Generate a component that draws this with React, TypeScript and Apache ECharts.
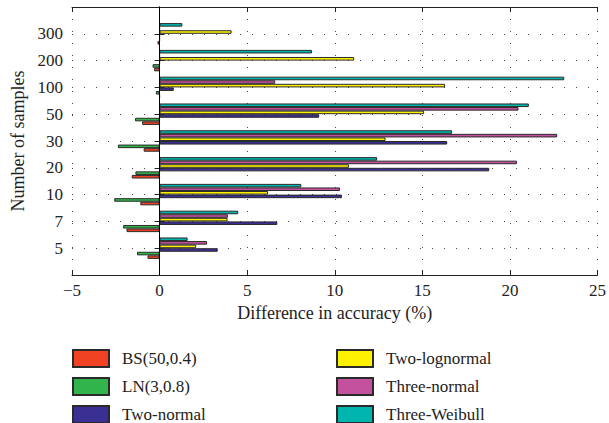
import React, { useEffect, useRef } from "react";
import * as echarts from "echarts";

// Sample sizes on the vertical axis (bottom to top); empty slots pad the ends
const sampleSizes = ["5", "7", "10", "20", "30", "50", "100", "200", "300"];

// Difference in accuracy (%) per sample size, in the order of sampleSizes
const bsValues = [-0.69, -1.89, -1.1, -1.59, -0.91, -1.0, 0, -0.31, -0.12];
const lnValues = [-1.29, -2.08, -2.59, -1.38, -2.38, -1.4, -0.21, -0.4, 0];
const twoNormalValues = [3.32, 6.72, 10.41, 18.82, 16.42, 9.11, 0.81, 0, 0];
const twoLognormalValues = [2.09, 3.88, 6.19, 10.81, 12.9, 15.1, 16.3, 11.11, 4.11];
const threeNormalValues = [2.71, 3.9, 10.3, 20.4, 22.7, 20.49, 6.6, 0, 0];
const threeWeibullValues = [1.6, 4.49, 8.09, 12.42, 16.7, 21.08, 23.1, 8.7, 1.3];

const seriesNames = [
  "BS(50,0.4)",
  "LN(3,0.8)",
  "Two-normal",
  "Two-lognormal",
  "Three-normal",
  "Three-Weibull",
];
const seriesColors = ["#f04123", "#30b44b", "#3a2f93", "#fff200", "#c4519e", "#00b5ae"];
const seriesValues = [
  bsValues,
  lnValues,
  twoNormalValues,
  twoLognormalValues,
  threeNormalValues,
  threeWeibullValues,
];

const xTicks = { min: -5, max: 25, interval: 5 };

const FONT = "'Liberation Serif', 'Times New Roman', serif";

export default function App() {
  const ref = useRef<HTMLDivElement>(null);

  useEffect(() => {
    if (!ref.current) return;
    const chart = echarts.init(ref.current, undefined, { renderer: "svg" });

    const yCats = ["", ...sampleSizes, ""];
    const pad = (arr: number[]) => [null, ...arr, null];

    const dotted = { color: "#444", width: 1, type: [1, 11] as number[] };

    // Horizontal bars stack their groups from the top, so the last series is
    // added first to keep BS at the bottom of each group.
    const order = [5, 4, 3, 2, 1, 0];
    const series: any[] = order.map((i, k) => ({
      name: seriesNames[i],
      type: "bar",
      xAxisIndex: 0,
      yAxisIndex: 0,
      data: pad(seriesValues[i]),
      barGap: "0%",
      barCategoryGap: "20%",
      itemStyle: { color: seriesColors[i], borderColor: "#2a2a2a", borderWidth: 1 },
      ...(k === order.length - 1
        ? {
            markLine: {
              silent: true,
              symbol: "none",
              label: { show: false },
              lineStyle: { color: "#000", type: "solid", width: 1 },
              data: [{ xAxis: 0 }],
            },
          }
        : {}),
    }));

    const legendCommon = {
      orient: "vertical",
      padding: 0,
      height: 100,
      itemWidth: 36,
      itemHeight: 17,
      itemGap: 9,
      icon: "rect",
      selectedMode: false,
      textStyle: {
        fontFamily: FONT,
        fontSize: 17,
        lineHeight: 17,
        color: "#222",
        padding: [0, 0, 0, 8],
      },
    };

    chart.setOption({
      animation: false,
      backgroundColor: "#fff",
      textStyle: { fontFamily: FONT },
      grid: { left: 72, right: 8, top: 7, bottom: 148 },
      legend: [
        { ...legendCommon, left: 72, top: 349, data: seriesNames.slice(0, 3) },
        { ...legendCommon, left: 336, top: 349, data: seriesNames.slice(3) },
      ],
      xAxis: [
        {
          type: "value",
          position: "bottom",
          ...xTicks,
          name: "Difference in accuracy (%)",
          nameLocation: "middle",
          nameGap: 29,
          nameTextStyle: { fontFamily: FONT, fontSize: 18, color: "#222" },
          axisLine: { show: true, lineStyle: { color: "#222", width: 1 } },
          axisTick: { show: true, inside: true, length: 5, lineStyle: { color: "#222" } },
          axisLabel: {
            fontFamily: FONT,
            fontSize: 17,
            color: "#222",
            margin: 7,
            formatter: (v: number) => (v < 0 ? "\u2212" + Math.abs(v) : String(v)),
          },
          splitLine: { show: true, lineStyle: dotted },
        },
        {
          type: "value",
          position: "top",
          ...xTicks,
          axisLine: { show: true, lineStyle: { color: "#222", width: 1 } },
          axisTick: { show: true, inside: true, length: 5, lineStyle: { color: "#222" } },
          axisLabel: { show: false },
          splitLine: { show: false },
        },
      ],
      yAxis: [
        {
          type: "category",
          position: "left",
          data: yCats,
          boundaryGap: false,
          name: "Number of samples",
          nameLocation: "middle",
          nameGap: 45,
          nameTextStyle: { fontFamily: FONT, fontSize: 18, color: "#222" },
          axisLine: { show: true, lineStyle: { color: "#222", width: 1 } },
          axisTick: { show: true, inside: true, length: 5, lineStyle: { color: "#222" } },
          axisLabel: { fontFamily: FONT, fontSize: 17, color: "#222", margin: 9 },
          splitLine: { show: true, lineStyle: dotted },
        },
        {
          type: "category",
          position: "right",
          data: yCats,
          boundaryGap: false,
          axisLine: { show: true, lineStyle: { color: "#222", width: 1 } },
          axisTick: { show: true, inside: true, length: 5, lineStyle: { color: "#222" } },
          axisLabel: { show: false },
          splitLine: { show: false },
        },
      ],
      series,
    });

    return () => chart.dispose();
  }, []);

  return (
    <div
      ref={ref}
      style={{ position: "absolute", left: 0, top: 0, width: 609, height: 423 }}
    />
  );
}
